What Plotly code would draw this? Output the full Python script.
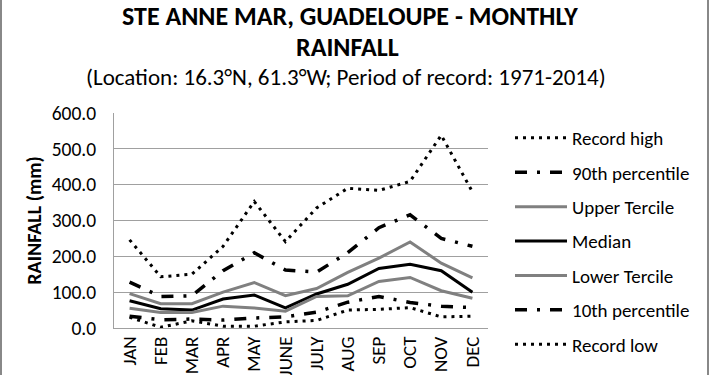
import plotly.graph_objects as go

months = ["JAN", "FEB", "MAR", "APR", "MAY", "JUNE", "JULY", "AUG", "SEP", "OCT", "NOV", "DEC"]

record_high = [246, 143, 150, 228, 353, 241, 335, 390, 384, 409, 538, 380]
p90 = [128, 88, 90, 160, 210, 162, 156, 210, 280, 316, 250, 228]
upper_tercile = [96, 68, 68, 100, 127, 90, 110, 155, 195, 240, 181, 140]
median = [76, 54, 50, 81, 92, 56, 95, 122, 166, 178, 160, 100]
lower_tercile = [55, 43, 43, 61, 56, 47, 88, 90, 130, 141, 104, 83]
p10 = [33, 23, 25, 22, 28, 31, 44, 72, 88, 71, 61, 57]
record_low = [30, 2, 20, 5, 5, 17, 21, 50, 52, 57, 31, 33]

yticks = [0, 100, 200, 300, 400, 500, 600]

FONT = "Carlito, Lato, sans-serif"
GRAY = "#808080"
dashdot = "12px,10px,3px,10px"
dot = "3px,5px"

series = [
    ("Record high", record_high, "black", dot, 3),
    ("90th percentile", p90, "black", dashdot, 3.5),
    ("Upper Tercile", upper_tercile, GRAY, "solid", 3),
    ("Median", median, "black", "solid", 3),
    ("Lower Tercile", lower_tercile, GRAY, "solid", 3),
    ("10th percentile", p10, "black", dashdot, 3.5),
    ("Record low", record_low, "black", dot, 3),
]

fig = go.Figure()
for i, (name, vals, color, dash, w) in enumerate(series):
    fig.add_trace(go.Scatter(
        x=months, y=vals, name=name, mode="lines",
        line=dict(color=color, dash=dash, width=w),
        legendgroup=f"g{i}",
    ))

L, R, T, B = 114, 222, 113, 47
W, H = 710, 375
PW, PH = W - L - R, H - T - B


def px_x(p):
    return (p - L) / PW


def px_y(p):
    return (H - B - p) / PH


fig.update_layout(
    width=W, height=H,
    margin=dict(l=L, r=R, t=T, b=B, autoexpand=False),
    paper_bgcolor="white", plot_bgcolor="white",
    font=dict(family=FONT, color="#000000", size=16),
    showlegend=True,
    legend=dict(
        x=px_x(510), y=px_y(119), xanchor="left", yanchor="top",
        font=dict(family=FONT, size=19, color="black"),
        tracegroupgap=6.7, traceorder="grouped",
        itemwidth=52, bgcolor="rgba(0,0,0,0)", maxheight=360,
    ),
    xaxis=dict(
        type="category", tickangle=-90, showgrid=False,
        range=[-0.5, len(months) - 0.5],
        showline=True, linecolor="#a0a0a0", linewidth=1,
        ticks="", tickfont=dict(family=FONT, size=19, color="black"),
        automargin=False,
    ),
    yaxis=dict(
        range=[0, 600], tickvals=yticks, tickformat=".1f",
        showgrid=True, gridcolor="#a0a0a0", gridwidth=1,
        showline=True, linecolor="#a0a0a0", linewidth=1,
        ticks="", tickfont=dict(family=FONT, size=19.5, color="black"),
        ticklabelstandoff=13,
        title=dict(text="<b>RAINFALL (mm)</b>", font=dict(family=FONT, size=20, color="black"), standoff=4),
        zeroline=False, automargin=False,
    ),
    annotations=[
        dict(text="<b>STE ANNE MAR, GUADELOUPE - MONTHLY</b>", x=px_x(350), y=px_y(16),
             xref="paper", yref="paper", showarrow=False, xanchor="center", yanchor="middle",
             font=dict(family=FONT, size=26, color="black")),
        dict(text="<b>RAINFALL</b>", x=px_x(347), y=px_y(47),
             xref="paper", yref="paper", showarrow=False, xanchor="center", yanchor="middle",
             font=dict(family=FONT, size=26, color="black")),
        dict(text="(Location: 16.3°N, 61.3°W; Period of record: 1971-2014)", x=px_x(346), y=px_y(77),
             xref="paper", yref="paper", showarrow=False, xanchor="center", yanchor="middle",
             font=dict(family=FONT, size=23, color="black")),
    ],
    shapes=[
        dict(type="line", xref="paper", yref="paper", x0=px_x(1), x1=px_x(1), y0=px_y(0), y1=px_y(375),
             line=dict(color="#888888", width=2)),
        dict(type="line", xref="paper", yref="paper", x0=px_x(708), x1=px_x(708), y0=px_y(0), y1=px_y(375),
             line=dict(color="#888888", width=2)),
    ],
)

fig.write_html("out.html", config={"displayModeBar": False},
               post_script="document.body.style.margin='0';document.body.style.padding='0';")
